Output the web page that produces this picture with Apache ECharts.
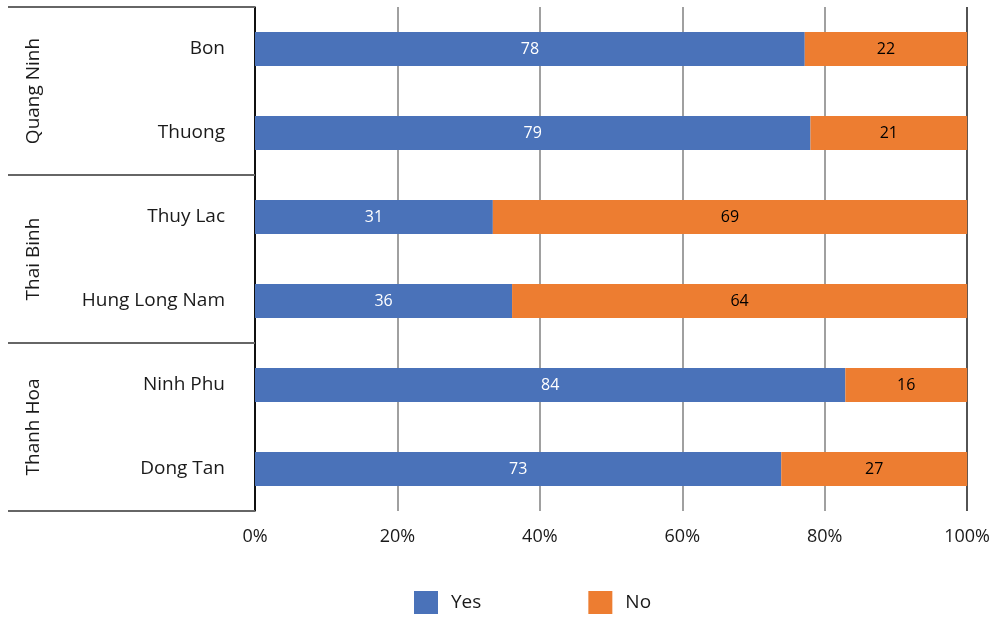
<!DOCTYPE html>
<html>
<head>
<meta charset="utf-8">
<script src="https://cdn.jsdelivr.net/npm/echarts@6/dist/echarts.min.js"></script>
<style>html,body{margin:0;padding:0;background:#fff}#c{width:993px;height:617px}</style>
</head>
<body>
<div id="c"></div>
<script>
// Data
var categories = ['Bon', 'Thuong', 'Thuy Lac', 'Hung Long Nam', 'Ninh Phu', 'Dong Tan'];
var groups = ['Quang Ninh', 'Thai Binh', 'Thanh Hoa'];
var yesShare = [77.2, 78.0, 33.4, 36.1, 82.9, 73.9];   // bar lengths as drawn (%)
var yesLabels = [78, 79, 31, 36, 84, 73];              // printed values
var noLabels = [22, 21, 69, 64, 16, 27];
var seriesNames = ['Yes', 'No'];
var xTicks = [0, 20, 40, 60, 80, 100];

var noShare = yesShare.map(function (v) { return 100 - v; });
var FONT = 'Open Sans';

var chart = echarts.init(document.getElementById('c'));
chart.setOption({
  animation: false,
  textStyle: { fontFamily: FONT },
  grid: { left: 255, right: 22, top: 7, bottom: 106, containLabel: false },
  xAxis: {
    type: 'value', min: xTicks[0], max: xTicks[xTicks.length - 1], interval: 20,
    axisLine: { show: false }, axisTick: { show: false },
    axisLabel: { formatter: '{value}%', fontSize: 18, color: '#1a1a1a', margin: 17, fontFamily: FONT },
    splitLine: { show: true, lineStyle: { color: ['#000', '#808080', '#808080', '#808080', '#808080', '#1a1a1a'], width: 1.5 } }
  },
  yAxis: [{
    type: 'category', data: categories, inverse: true,
    axisLine: { show: true, lineStyle: { color: '#000', width: 1.5 } },
    axisTick: { show: false },
    axisLabel: { fontSize: 19, color: '#1a1a1a', margin: 30, fontFamily: FONT }
  }, {
    type: 'category', data: groups, inverse: true, position: 'left', offset: 247,
    axisLine: { show: false },
    axisTick: { show: true, inside: true, length: 247, lineStyle: { color: '#666', width: 2 } },
    axisLabel: { inside: true, rotate: 90, fontSize: 19, color: '#1a1a1a', margin: 16, fontFamily: FONT },
    splitLine: { show: false }
  }],
  legend: {
    data: seriesNames, left: 409, top: 586, itemWidth: 24, itemHeight: 23, itemGap: 107,
    icon: 'rect', textStyle: { fontSize: 19, color: '#1a1a1a', fontFamily: FONT, padding: [0, 0, 0, 8] }
  },
  series: [{
    name: 'Yes', type: 'bar', stack: 's', barWidth: 34, yAxisIndex: 0,
    data: yesShare, itemStyle: { color: '#4A72B9' },
    label: { show: true, position: 'inside', color: '#fff', fontSize: 16, fontFamily: FONT,
      formatter: function (p) { return yesLabels[p.dataIndex]; } }
  }, {
    name: 'No', type: 'bar', stack: 's', barWidth: 34, yAxisIndex: 0,
    data: noShare, itemStyle: { color: '#ED7D31' },
    label: { show: true, position: 'inside', color: '#000', fontSize: 16, fontFamily: FONT,
      formatter: function (p) { return noLabels[p.dataIndex]; } }
  }]
});
</script>
</body>
</html>
